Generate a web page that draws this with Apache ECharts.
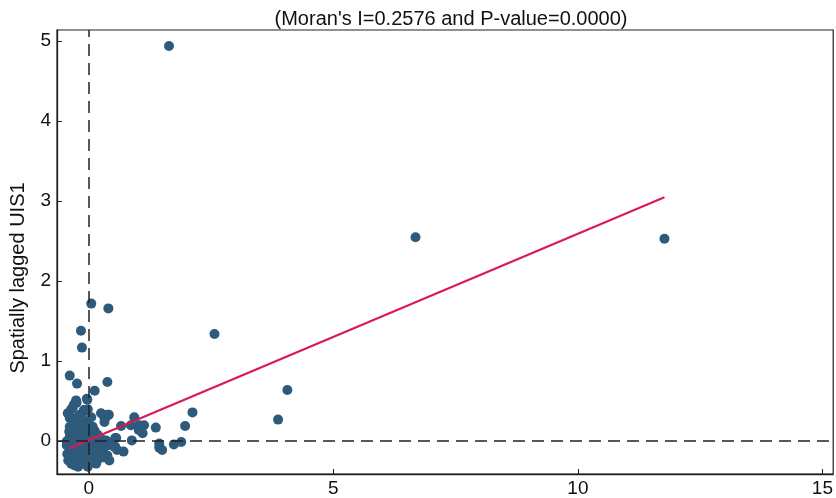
<!DOCTYPE html>
<html>
<head>
<meta charset="utf-8">
<script src="https://cdn.jsdelivr.net/npm/echarts@6/dist/echarts.min.js"></script>
<style>
html,body{margin:0;padding:0;background:#fff;}
#chart{width:836px;height:498px;}
</style>
</head>
<body>
<div id="chart"></div>
<script>
// Moran scatter: x = UIS1 (standardized), y = spatially lagged UIS1
const points = [
  // dense cluster near origin
  [-0.43,0.35],[-0.39,0.29],[-0.36,0.40],[-0.30,0.46],[-0.26,0.51],[-0.25,0.48],[-0.32,0.43],[-0.10,0.39],
  [-0.04,0.53],[-0.25,0.24],[-0.05,0.24],[-0.39,0.18],[-0.19,0.16],[0.05,0.18],[-0.33,0.28],[-0.41,0.34],
  [-0.09,0.38],[-0.20,0.33],[-0.15,0.30],[-0.30,0.22],[-0.40,0.12],[-0.35,0.08],[-0.28,0.14],[-0.22,0.10],
  [-0.14,0.20],[-0.08,0.14],[0.00,0.12],[0.08,0.18],[0.12,0.13],[0.18,0.08],[0.01,0.10],[-0.12,0.06],
  [-0.39,0.05],[-0.45,0.00],[-0.33,-0.02],[-0.29,-0.05],[-0.22,0.02],[-0.16,-0.04],[-0.09,0.01],[-0.03,-0.06],
  [0.04,0.03],[0.12,-0.03],[0.20,-0.01],[0.25,0.03],[0.32,-0.05],[0.29,-0.07],[0.39,-0.01],[0.35,0.01],
  [0.39,-0.05],[-0.39,-0.11],[-0.44,-0.16],[-0.34,-0.14],[-0.26,-0.10],[-0.20,-0.15],[-0.12,-0.10],[-0.06,-0.14],
  [0.02,-0.09],[0.08,-0.12],[0.16,-0.08],[0.25,-0.13],[0.29,-0.13],[-0.29,-0.20],[-0.42,-0.24],[-0.36,-0.28],
  [-0.22,-0.32],[-0.15,-0.24],[-0.02,-0.32],[-0.02,-0.21],[0.08,-0.26],[0.12,-0.17],[0.20,-0.22],[0.38,-0.18],
  [0.42,-0.24],[0.58,-0.11],[0.52,-0.07],[0.56,0.04],[-0.10,-0.28],[-0.30,-0.30],[0.00,-0.18],[-0.18,-0.20],
  [0.30,-0.20],[0.15,-0.28],[-0.45,-0.05],[0.32,0.29],[0.38,0.33],[0.35,0.30],[0.41,0.33],[0.32,0.24],
  [0.25,0.35],[-0.02,0.40],[0.05,0.30],[-0.24,0.72],[-0.39,0.82],[0.38,0.74],[0.12,0.63],[-0.03,0.52],
  // scattered points
  [0.05,1.72],[0.40,1.66],[-0.16,1.38],[-0.14,1.17],[2.57,1.34],[0.93,0.30],[0.66,0.19],[0.86,0.20],
  [1.03,0.20],[1.13,0.20],[1.02,0.14],[1.10,0.10],[1.37,0.17],[1.97,0.19],[2.12,0.36],[0.88,0.01],
  [0.54,0.04],[0.54,-0.07],[0.71,-0.13],[1.44,-0.03],[1.44,-0.08],[1.50,-0.11],[1.74,-0.04],[1.89,-0.01],
  [4.06,0.64],[3.87,0.27],[1.64,4.94],[6.68,2.55],[11.77,2.53]
];
const fitLine = [[-0.41,-0.09],[11.77,3.05]];
const xTicks = [0,5,10,15];
const yTicks = [0,1,2,3,4,5];
const refX = 0, refY = 0;
const titleText = "(Moran's I=0.2576 and P-value=0.0000)";
const yName = "Spatially lagged UIS1";

const font = "'Liberation Sans', Arial, Helvetica, sans-serif";
const chart = echarts.init(document.getElementById('chart'), null, {renderer:'canvas'});
chart.setOption({
  animation:false,
  backgroundColor:'#fff',
  title:{text:titleText,left:446,textAlign:'center',top:4,
    textStyle:{fontFamily:font,fontSize:20,fontWeight:'normal',color:'#111'}},
  grid:{left:57,right:-2,top:30,bottom:24,show:true,borderColor:'#222',borderWidth:1.2,backgroundColor:'#fff'},
  xAxis:{type:'value',min:-0.65,max:15.22,
    axisLine:{show:true,onZero:false,lineStyle:{color:'#222',width:1.3}},
    axisTick:{show:true,inside:true,length:5,customValues:xTicks,lineStyle:{color:'#222'}},
    axisLabel:{customValues:xTicks,margin:5,fontFamily:font,fontSize:19,color:'#111'},
    splitLine:{show:false}},
  yAxis:{type:'value',min:-0.41,max:5.14,
    axisLine:{show:true,onZero:false,lineStyle:{color:'#222',width:1.3}},
    axisTick:{show:true,inside:true,length:5,customValues:yTicks,lineStyle:{color:'#222'}},
    axisLabel:{customValues:yTicks,margin:6,fontFamily:font,fontSize:19,color:'#111'},
    splitLine:{show:false}},
  graphic:[{type:'text',x:18,y:278,rotation:Math.PI/2,
    style:{text:yName,font:'20px ' + font,fill:'#111',textAlign:'center',textVerticalAlign:'middle'}}],
  series:[
    {type:'line',data:[],z:1,silent:true,
      markLine:{silent:true,symbol:'none',label:{show:false},
        lineStyle:{color:'#222',type:[12,7],width:1.5},
        data:[{xAxis:refX},{yAxis:refY}]}},
    {type:'scatter',data:points,symbolSize:10,z:2,
      itemStyle:{color:'#2e5a7c',opacity:1}},
    {type:'line',data:fitLine,z:3,symbol:'none',
      lineStyle:{color:'#d81b52',width:2.2}}
  ]
});
</script>
</body>
</html>
